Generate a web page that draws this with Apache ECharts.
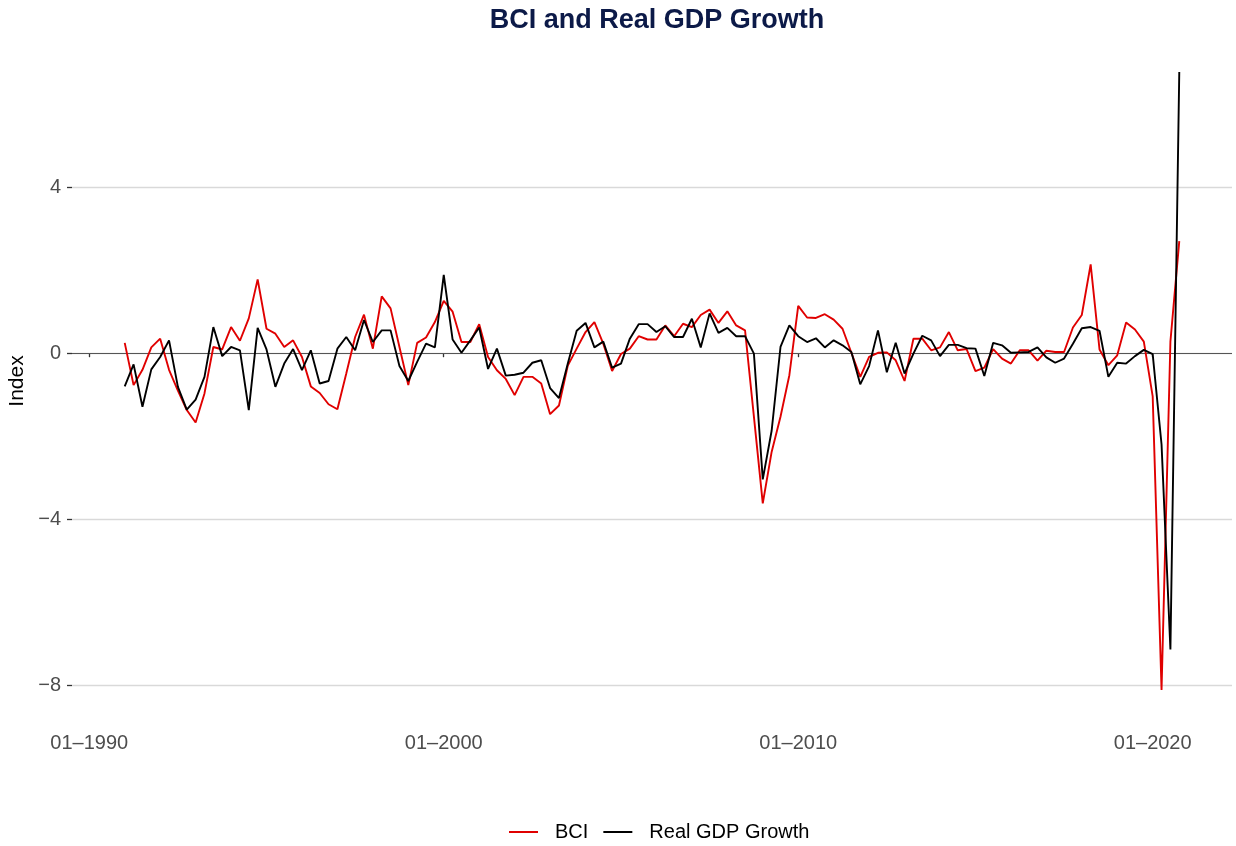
<!DOCTYPE html>
<html>
<head>
<meta charset="utf-8">
<title>BCI and Real GDP Growth</title>
<script src="https://cdn.jsdelivr.net/npm/echarts@6/dist/echarts.min.js"></script>
<style>
  html, body { margin: 0; padding: 0; background: #fff; }
  #chart { width: 1236px; height: 846px; }
</style>
</head>
<body>
<div id="chart"></div>
<script>
// Quarterly observations, 1991 Q1 to 2020 Q4
const firstYear = 1991;
const quarterCount = 120;

const bci = [
  0.25, -0.77, -0.40, 0.14, 0.35, -0.40, -0.90, -1.37, -1.67, -0.97,
  0.15, 0.09, 0.63, 0.30, 0.84, 1.78, 0.59, 0.47, 0.15, 0.31,
  -0.09, -0.80, -0.96, -1.23, -1.35, -0.49, 0.39, 0.93, 0.11, 1.37,
  1.08, 0.15, -0.77, 0.25, 0.38, 0.75, 1.26, 1.00, 0.27, 0.27,
  0.70, -0.09, -0.41, -0.62, -1.01, -0.57, -0.57, -0.73, -1.47, -1.26,
  -0.30, 0.11, 0.51, 0.75, 0.23, -0.43, -0.02, 0.11, 0.41, 0.33,
  0.33, 0.67, 0.41, 0.71, 0.63, 0.92, 1.05, 0.73, 1.01, 0.67,
  0.55, -1.53, -3.62, -2.38, -1.53, -0.53, 1.14, 0.86, 0.85, 0.94,
  0.81, 0.59, 0.01, -0.57, -0.09, 0.01, 0.02, -0.17, -0.67, 0.35,
  0.35, 0.07, 0.14, 0.51, 0.07, 0.10, -0.43, -0.35, 0.10, -0.13,
  -0.25, 0.07, 0.07, -0.18, 0.06, 0.03, 0.03, 0.62, 0.92, 2.14,
  0.09, -0.29, -0.05, 0.74, 0.57, 0.28, -1.04, -8.12, 0.28, 2.70
];

const gdpGrowth = [
  -0.80, -0.27, -1.29, -0.39, -0.09, 0.31, -0.81, -1.36, -1.12, -0.57,
  0.63, -0.07, 0.15, 0.07, -1.37, 0.61, 0.09, -0.81, -0.25, 0.10,
  -0.41, 0.07, -0.73, -0.67, 0.11, 0.39, 0.07, 0.80, 0.27, 0.55,
  0.55, -0.31, -0.67, -0.21, 0.23, 0.14, 1.89, 0.33, 0.01, 0.31,
  0.62, -0.38, 0.11, -0.54, -0.52, -0.47, -0.23, -0.17, -0.84, -1.08,
  -0.25, 0.54, 0.73, 0.14, 0.28, -0.35, -0.25, 0.35, 0.70, 0.70,
  0.51, 0.65, 0.39, 0.39, 0.83, 0.14, 0.96, 0.49, 0.61, 0.41,
  0.41, -0.01, -3.04, -1.87, 0.15, 0.67, 0.41, 0.27, 0.36, 0.14,
  0.31, 0.19, 0.03, -0.75, -0.31, 0.55, -0.46, 0.25, -0.49, -0.01,
  0.42, 0.31, -0.07, 0.20, 0.20, 0.12, 0.11, -0.55, 0.25, 0.19,
  0.01, 0.02, 0.03, 0.14, -0.10, -0.23, -0.13, 0.23, 0.60, 0.63,
  0.54, -0.57, -0.23, -0.25, -0.07, 0.08, -0.02, -2.20, -7.14, 6.78
];

const xTicks = [1990, 2000, 2010, 2020];
const xTickLabels = ['01–1990', '01–2000', '01–2010', '01–2020'];
const yTicks = [-8, -4, 0, 4];

// Decimal-year position of each quarter (Jan, Apr, Jul, Oct)
const periods = [];
for (let i = 0; i < quarterCount; i++) {
  periods.push(firstYear + Math.floor(i / 4) + (i % 4) * 0.25);
}

const toPairs = vals => vals.map((v, i) => [periods[i], v]);

// Padded ranges, 5% on each side of the data
const xSpan = periods[periods.length - 1] - periods[0];
const xMin = periods[0] - 0.05 * xSpan;
const xMax = periods[periods.length - 1] + 0.05 * xSpan;
const allVals = bci.concat(gdpGrowth);
const yLo = Math.min.apply(null, allVals);
const yHi = Math.max.apply(null, allVals);
const ySpan = yHi - yLo;
const yMin = yLo - 0.05 * ySpan;
const yMax = yHi + 0.05 * ySpan;

const font = '"Liberation Sans", Arial, Helvetica, sans-serif';

const chart = echarts.init(document.getElementById('chart'), null, { renderer: 'canvas' });

chart.setOption({
  animation: false,
  backgroundColor: '#ffffff',
  textStyle: { fontFamily: font },
  title: {
    text: 'BCI and Real GDP Growth',
    left: 652,
    top: 2,
    textAlign: 'center',
    textStyle: { fontFamily: font, fontSize: 27, fontWeight: 'bold', color: '#0c1a48' }
  },
  legend: {
    top: 817,
    left: 504,
    itemWidth: 29,
    itemHeight: 2,
    itemGap: 15,
    icon: 'rect',
    textStyle: { fontFamily: font, fontSize: 20, color: '#000', padding: [0, 0, 0, 12] },
    data: ['BCI', 'Real GDP Growth']
  },
  grid: { left: 72, right: 4, top: 41, bottom: 125, containLabel: false, outerBoundsMode: 'none' },
  xAxis: {
    type: 'value',
    min: xMin,
    max: xMax,
    axisLine: { show: false },
    axisTick: {
      show: true,
      customValues: xTicks,
      length: 4,
      lineStyle: { color: '#333', width: 1.3 }
    },
    axisLabel: {
      customValues: xTicks,
      formatter: v => xTickLabels[xTicks.indexOf(Math.round(v))] || '',
      color: '#4d4d4d',
      fontSize: 20,
      fontFamily: font,
      margin: 12
    },
    splitLine: { show: false }
  },
  yAxis: {
    type: 'value',
    min: yMin,
    max: yMax,
    name: 'Index',
    nameLocation: 'middle',
    nameGap: 44,
    nameRotate: 90,
    nameTextStyle: { fontFamily: font, fontSize: 21, color: '#000' },
    axisLine: { show: false },
    axisTick: {
      show: true,
      customValues: yTicks,
      length: 5,
      lineStyle: { color: '#333', width: 1.3 }
    },
    axisLabel: {
      customValues: yTicks,
      formatter: v => (v < 0 ? '\u2212' + Math.abs(v) : String(v)),
      color: '#4d4d4d',
      fontSize: 20,
      fontFamily: font,
      margin: 11
    },
    splitLine: { show: true, lineStyle: { color: '#d9d9d9', width: 1.3 } }
  },
  series: [
    {
      name: 'BCI',
      type: 'line',
      data: toPairs(bci),
      showSymbol: false,
      symbol: 'none',
      color: '#e00000',
      lineStyle: { color: '#e00000', width: 1.9 },
      z: 3,
      markLine: {
        silent: true,
        symbol: 'none',
        label: { show: false },
        lineStyle: { color: '#555555', width: 1.1, type: 'solid' },
        data: [{ yAxis: 0 }],
        z: 1
      }
    },
    {
      name: 'Real GDP Growth',
      type: 'line',
      data: toPairs(gdpGrowth),
      showSymbol: false,
      symbol: 'none',
      color: '#000000',
      lineStyle: { color: '#000000', width: 1.9 },
      z: 4
    }
  ]
});
</script>
</body>
</html>
